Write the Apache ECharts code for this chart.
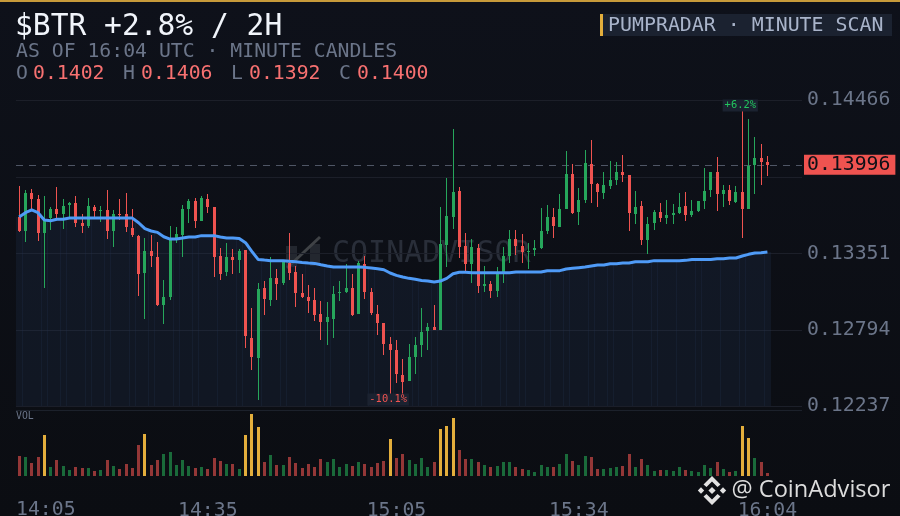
<!DOCTYPE html>
<html><head><meta charset="utf-8">
<style>html,body{margin:0;padding:0;background:#0c0f15}#c{width:900px;height:516px}</style>
<script src="https://cdn.jsdelivr.net/npm/echarts@6/dist/echarts.min.js"></script>
</head><body><div id="c"></div>
<script>
const firstMinute = 14*60+5;
const tickTimes = ['14:05','14:35','15:05','15:34','16:04'];
const priceGrid = [0.14466,0.13909,0.13351,0.12794,0.12237];
const priceLabels = [0.14466,0.13351,0.12794,0.12237];
const lastPrice = 0.13996;
const opens = [.13616,.13514,.13790,.13747,.13499,.13606,.13674,.13638,.13703,.13718,
.13572,.13550,.13688,.13659,.13667,.13514,.13638,.13638,.13536,.13477,
.13208,.13368,.13324,.12975,.13033,.13448,.13485,.13674,.13732,.13587,
.13747,.13688,.13332,.13215,.13324,.13302,.13375,.12734,.12589,.13098,
.13011,.13171,.13135,.13278,.13215,.13062,.13033,.13011,.12909,.12851,
.12873,.13062,.13069,.13098,.12909,.13273,.13069,.12909,.12844,.12691,
.12647,.12465,.12421,.12596,.12683,.12785,.12814,.12793,.13412,.13616,
.13805,.13404,.13273,.13390,.13113,.13128,.13077,.13215,.13332,.13456,
.13405,.13361,.13375,.13390,.13514,.13616,.13543,.13674,.13929,.13652,
.13740,.14002,.13856,.13791,.13842,.13885,.13944,.13922,.13638,.13696,
.13448,.13572,.13652,.13608,.13630,.13645,.13696,.13630,.13659,.13732,
.13812,.13944,.13783,.13812,.13725,.13798,.13674,.13995,.14046,.14016];
const closes = [.13514,.13790,.13747,.13499,.13594,.13674,.13638,.13696,.13718,.13572,
.13550,.13696,.13659,.13667,.13514,.13638,.13630,.13543,.13485,.13200,
.13368,.13332,.12975,.13033,.13455,.13492,.13674,.13732,.13587,.13754,
.13688,.13324,.13200,.13324,.13302,.13368,.12749,.12596,.13091,.13018,
.13171,.13128,.13288,.13208,.13062,.13033,.13004,.12902,.12851,.12887,
.13055,.13069,.13098,.12902,.13281,.13069,.12916,.12844,.12691,.12647,
.12472,.12414,.12596,.12683,.12778,.12814,.12793,.13419,.13623,.13798,
.13397,.13273,.13397,.13113,.13128,.13077,.13215,.13332,.13456,.13405,
.13361,.13368,.13390,.13514,.13616,.13550,.13674,.13929,.13645,.13740,
.14009,.13856,.13798,.13849,.13885,.13944,.13922,.13645,.13689,.13448,
.13565,.13652,.13608,.13630,.13645,.13689,.13630,.13659,.13732,.13805,
.13944,.13783,.13812,.13732,.13798,.13674,.13987,.14046,.14016,.13996];
const highs = [.13841,.13812,.13820,.13776,.13769,.13688,.13834,.13747,.13725,.13769,
.13638,.13754,.13703,.13696,.13812,.13667,.13747,.13790,.13674,.13485,
.13463,.13485,.13434,.13157,.13550,.13543,.13703,.13747,.13754,.13769,
.13783,.13688,.13390,.13426,.13383,.13383,.13375,.12953,.13135,.13149,
.13324,.13237,.13302,.13499,.13259,.13200,.13120,.13098,.13004,.12997,
.13113,.13149,.13273,.13200,.13295,.13332,.13098,.12975,.12844,.12742,
.12720,.12581,.12691,.12742,.12953,.12844,.12975,.13688,.13900,.14257,
.13834,.13499,.13455,.13419,.13259,.13149,.13251,.13397,.13521,.13521,
.13492,.13426,.13448,.13681,.13703,.13681,.13783,.14097,.14002,.13827,
.14104,.14177,.13863,.13944,.14024,.14016,.14067,.13922,.13805,.13732,
.13616,.13667,.13718,.13740,.13710,.13791,.13798,.13740,.13732,.13973,
.13944,.14053,.13849,.13849,.13842,.14388,.14330,.14198,.14148,.14060];
const lows = [.13506,.13434,.13667,.13441,.13098,.13521,.13606,.13528,.13616,.13543,
.13499,.13536,.13606,.13579,.13455,.13397,.13594,.13506,.13470,.13040,
.12873,.13251,.12967,.12836,.13011,.13426,.13324,.13572,.13536,.13587,
.13645,.13179,.13157,.13186,.13200,.13208,.12661,.12501,.12283,.12902,
.12967,.13011,.13120,.13157,.12960,.13026,.12916,.12858,.12720,.12683,
.12734,.13004,.13062,.12895,.12909,.13018,.12902,.12756,.12610,.12246,
.12407,.12326,.12421,.12472,.12596,.12647,.12793,.12793,.13251,.13528,
.13317,.13215,.13135,.13062,.13069,.13026,.13033,.13135,.13278,.13339,
.13283,.13237,.13332,.13383,.13492,.13463,.13543,.13674,.13638,.13557,
.13718,.13718,.13689,.13747,.13820,.13849,.13871,.13514,.13565,.13412,
.13346,.13521,.13579,.13565,.13565,.13638,.13587,.13616,.13652,.13674,
.13761,.13659,.13689,.13703,.13718,.13463,.13674,.13783,.13849,.13914];
const maValues = [.13616,.13647,.13667,.13647,.13594,.13589,.13599,.13599,.13608,.13608,
.13608,.13608,.13608,.13608,.13608,.13608,.13608,.13608,.13608,.13574,
.13531,.13514,.13504,.13472,.13455,.13455,.13463,.13470,.13470,.13480,
.13480,.13480,.13470,.13463,.13463,.13460,.13429,.13366,.13307,.13302,
.13298,.13298,.13298,.13293,.13290,.13285,.13281,.13278,.13268,.13259,
.13251,.13251,.13251,.13251,.13251,.13249,.13244,.13239,.13232,.13208,
.13191,.13179,.13169,.13162,.13154,.13149,.13142,.13149,.13169,.13203,
.13213,.13213,.13210,.13210,.13210,.13210,.13210,.13210,.13210,.13215,
.13215,.13215,.13215,.13215,.13225,.13225,.13225,.13237,.13242,.13247,
.13252,.13259,.13266,.13266,.13276,.13276,.13281,.13281,.13290,.13290,
.13290,.13298,.13298,.13298,.13298,.13298,.13300,.13307,.13307,.13307,
.13307,.13312,.13312,.13317,.13317,.13332,.13344,.13353,.13356,.13361];
const volumes = [60,57,39,57,123,27,48,30,18,27,24,24,15,18,48,30,21,36,24,93,
126,33,48,66,72,33,48,30,24,27,21,54,45,36,36,21,123,186,147,42,
63,33,33,57,39,24,36,27,51,42,51,27,36,30,42,36,27,39,45,111,
54,66,48,36,54,27,42,141,150,174,78,51,51,42,33,27,30,42,42,27,
21,18,12,33,27,27,36,66,45,33,60,57,21,21,24,27,30,66,27,51,
33,15,18,18,15,27,18,15,12,33,24,42,21,12,15,150,114,54,42,9];
const spikeVolume = 100;
const spikeUp = {index:115, at:0.14428, text:'+6.2%'};
const spikeDown = {index:59, at:0.12287, text:'-10.1%'};

const RED='#ef5350', GREEN='#26a65b', GOLD='#e3ae3c', GREY='#6b7589';
const MONO='"DejaVu Sans Mono", monospace';
const pad2=n=>String(n).padStart(2,'0');
// five empty minutes to the right of the last candle hold the grid-line overhang
const minutes = Array.from({length:125},(_,i)=>{const m=firstMinute+i;return pad2(Math.floor(m/60))+':'+pad2(m%60);});
const candles = opens.map((o,i)=>[i,o,closes[i],lows[i],highs[i]]);
const volColor = i=>volumes[i]>spikeVolume?GOLD:(closes[i]>=opens[i]?'#1a6a3a':'#943737');
const yMin=priceGrid[priceGrid.length-1], yMax=priceGrid[0];

const txt=(text,x,y,size,fill,extra)=>({type:'text',x,y,silent:true,z:50,style:Object.assign({text,fill,font:size+'px '+MONO,textVerticalAlign:'middle'},extra||{})});
const diamond=(cx,cy,r)=>({type:'polygon',silent:true,z:50,shape:{points:[[cx,cy-r],[cx+r,cy],[cx,cy+r],[cx-r,cy]]},style:{fill:'#e2e2e2'}});
const LX=712,LY=490.5;
const graphics=[
 {type:'rect',silent:true,z:50,shape:{x:0,y:0,width:900,height:2},style:{fill:'#c79a3a'}},
 txt('$BTR +2.8% / 2H',15,27.5,29.6,'#f1f5fb'),
 txt('AS OF 16:04 UTC · MINUTE CANDLES',16,52,19.8,GREY),
 txt('O',16,74,19.8,GREY),txt('0.1402',33,74,19.8,'#f87171'),
 txt('H',123,74,19.8,GREY),txt('0.1406',141,74,19.8,'#f87171'),
 txt('L',231,74,19.8,GREY),txt('0.1392',249,74,19.8,'#f87171'),
 txt('C',339,74,19.8,GREY),txt('0.1400',357,74,19.8,'#f87171'),
 {type:'rect',silent:true,z:49,shape:{x:603,y:14,width:289,height:22},style:{fill:'#1b2230'}},
 {type:'rect',silent:true,z:49,shape:{x:600,y:14,width:3,height:22},style:{fill:'#e3ae3c'}},
 txt('PUMPRADAR · MINUTE SCAN',608,26,19.9,'#a9b4ca'),
 txt('VOL',16,416,9.8,GREY),
 txt('14:05',16,510,19.8,GREY),
 {type:'line',silent:true,z:1,shape:{x1:16,y1:410.5,x2:802,y2:410.5},style:{stroke:'#1c212b',lineWidth:1}},
 // faint chart watermark
 {type:'rect',silent:true,z:0,shape:{x:286,y:246,width:11,height:21},style:{fill:'#23272f'}},
 {type:'rect',silent:true,z:0,shape:{x:310,y:244,width:10,height:22},style:{fill:'#23272f'}},
 {type:'line',silent:true,z:0,shape:{x1:287,y1:268,x2:320,y2:237},style:{stroke:'#3f4246',lineWidth:3}},
 {type:'text',silent:true,z:0,x:332,y:254.5,style:{text:'COINADVISOR',fill:'#292e39',font:'30px '+MONO,textVerticalAlign:'middle'}},
 // footer mark
 diamond(LX,LY,3.6),diamond(LX-11,LY,3.2),diamond(LX+11,LY,3.2),
 {type:'polygon',silent:true,z:50,shape:{points:[[LX,LY-14.5],[LX+8.5,LY-6],[LX+5.5,LY-3.5],[LX,LY-9],[LX-5.5,LY-3.5],[LX-8.5,LY-6]]},style:{fill:'#e2e2e2'}},
 {type:'polygon',silent:true,z:50,shape:{points:[[LX,LY+14.5],[LX+8.5,LY+6],[LX+5.5,LY+3.5],[LX,LY+9],[LX-5.5,LY+3.5],[LX-8.5,LY+6]]},style:{fill:'#e2e2e2'}},
 {type:'text',silent:true,z:50,x:731.5,y:490,style:{text:'@ CoinAdvisor',fill:'#dcdcdc',font:'23.6px "Open Sans"',textVerticalAlign:'middle'}},
];

const chart=echarts.init(document.getElementById('c'),null,{renderer:'canvas',width:900,height:516});
chart.setOption({
 animation:false,
 backgroundColor:{type:'linear',x:0,y:0,x2:0,y2:1,colorStops:[{offset:0,color:'#0e111a'},{offset:1,color:'#0b0d12'}]},
 graphic:graphics,
 grid:[{left:16,width:786,top:100.3,height:306,outerBoundsMode:'none'},{left:16,width:786,top:410,height:66,outerBoundsMode:'none'}],
 xAxis:[
  {type:'category',gridIndex:0,data:minutes,axisLine:{show:false},axisTick:{show:false},axisLabel:{show:false},splitLine:{show:false}},
  {type:'category',gridIndex:1,data:minutes,axisLine:{show:false},axisTick:{show:false},splitLine:{show:false},
   axisLabel:{interval:(i,v)=>i>0&&tickTimes.includes(v),color:GREY,fontFamily:MONO,fontSize:19.8,margin:25,hideOverlap:false}}
 ],
 yAxis:[
  {type:'value',gridIndex:0,position:'right',min:yMin,max:yMax,axisLine:{show:false},
   axisTick:{show:false,customValues:priceGrid},
   splitLine:{show:true,lineStyle:{color:'#1c1f29',width:1}},
   axisLabel:{customValues:priceLabels,formatter:v=>v.toFixed(5),color:GREY,fontFamily:MONO,fontSize:19.8,margin:5,padding:[3,0,0,0]}},
  {type:'value',gridIndex:1,min:0,max:198,show:false,splitLine:{show:false}}
 ],
 series:[
  {type:'custom',name:'MA band',xAxisIndex:0,yAxisIndex:0,z:1,silent:true,clip:true,
   data:maValues.map((v,i)=>[i,v]),encode:{x:0,y:1},
   renderItem:(p,api)=>{
    const pt=api.coord([api.value(0),api.value(1)]);
    const bottom=api.coord([api.value(0),yMin])[1];
    const b=api.size([1,0])[0];
    const l=Math.round(pt[0]-b/2), r=Math.ceil(pt[0]+b/2);
    return {type:'rect',shape:{x:l,y:pt[1],width:r-l,height:bottom-pt[1]},style:{fill:'rgba(34,50,82,0.26)'}};
   }},
  {type:'custom',name:'Price',xAxisIndex:0,yAxisIndex:0,z:3,silent:true,data:candles,encode:{x:0,y:[1,2,3,4]},
   renderItem:(p,api)=>{
    const i=api.value(0), o=api.value(1), c=api.value(2);
    const cx=Math.floor(api.coord([i,o])[0]);
    const yO=api.coord([i,o])[1], yC=api.coord([i,c])[1];
    const yL=Math.round(api.coord([i,api.value(3)])[1]), yH=Math.round(api.coord([i,api.value(4)])[1]);
    const top=Math.round(Math.min(yO,yC)), bot=Math.round(Math.max(yO,yC));
    const fill=c>=o?GREEN:RED;
    return {type:'group',children:[
     {type:'line',shape:{x1:cx+0.5,y1:yH,x2:cx+0.5,y2:yL},style:{stroke:fill,lineWidth:1,fill:null}},
     {type:'rect',shape:{x:cx-1,y:top,width:3,height:Math.max(1,bot-top)},style:{fill}}
    ]};
   },
   markLine:{silent:true,symbol:'none',z:2,precision:5,
    lineStyle:{color:'#4f5665',type:[7,6],width:1},
    label:{show:true,position:'end',distance:2,formatter:()=>lastPrice.toFixed(5),color:'#0d1017',backgroundColor:RED,fontFamily:MONO,fontSize:19.8,padding:[1,5,0,3],lineHeight:19,height:19},
    data:[{yAxis:lastPrice}]},
   markPoint:{silent:true,symbol:'circle',symbolSize:1,itemStyle:{color:'rgba(0,0,0,0)'},z:6,
    data:[
     {coord:[spikeUp.index,spikeUp.at],label:{show:true,position:'inside',offset:[-2,0],formatter:spikeUp.text,color:'#22c55e',backgroundColor:'#1b2230',fontFamily:MONO,fontSize:10.4,padding:[1,2,1,2]}},
     {coord:[spikeDown.index,spikeDown.at],label:{show:true,position:'inside',offset:[-2,0],formatter:spikeDown.text,color:RED,backgroundColor:'#1b2230',fontFamily:MONO,fontSize:10.4,padding:[1,2,1,2]}}
    ]}},
  {type:'line',name:'MA',xAxisIndex:0,yAxisIndex:0,z:4,data:maValues,showSymbol:false,silent:true,
   lineStyle:{color:'#4f9bf7',width:3}},
  {type:'custom',name:'Volume',xAxisIndex:1,yAxisIndex:1,silent:true,
   data:volumes.map((v,i)=>[i,v]),encode:{x:0,y:1},
   renderItem:(p,api)=>{
    const i=api.value(0);
    const top=api.coord([i,api.value(1)]);
    const base=api.coord([i,0]);
    return {type:'rect',shape:{x:Math.floor(top[0])-1,y:Math.round(top[1]),width:3,height:Math.round(base[1])-Math.round(top[1])},style:{fill:volColor(i)}};
   }}
 ]
});
</script></body></html>
